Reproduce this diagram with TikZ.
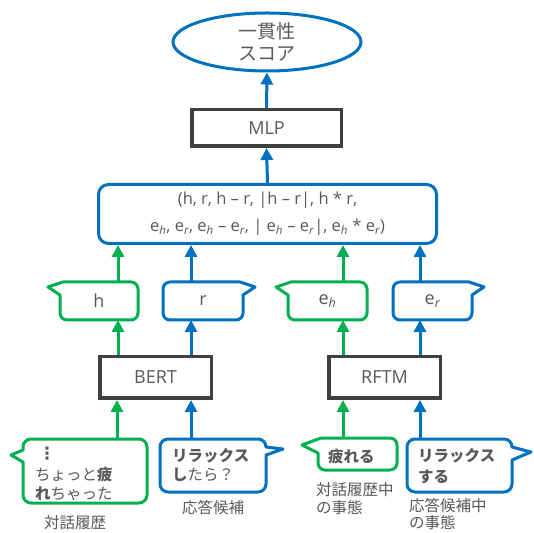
\documentclass[tikz,border=0pt]{standalone}
\usepackage{fontspec}
\setmainfont{Noto Sans CJK JP}
\newfontfamily\lat{Open Sans}
\newfontfamily\symf{DejaVu Sans}
\usetikzlibrary{arrows.meta,shapes.geometric}
\definecolor{gr}{HTML}{00B050}
\definecolor{bl}{HTML}{0070C0}
\definecolor{dk}{HTML}{404040}
\definecolor{tx}{HTML}{595959}
\newcommand\myeh{e\textsubscript{\itshape h}}
\newcommand\myer{e\textsubscript{\itshape r}}
\begin{document}
\begin{tikzpicture}[x=1pt,y=1pt,
  gline/.style={draw=gr, line width=3pt, line join=round, fill=white},
  bline/.style={draw=bl, line width=3pt, line join=round, fill=white},
  proc/.style={draw=dk, line width=3.5pt, fill=white, text=tx, inner sep=0pt,
    font=\lat\fontsize{18}{21}\selectfont},
  garr/.style={draw=gr, line width=3pt, -{Triangle[length=12pt,width=12pt]}},
  barr/.style={draw=bl, line width=3pt, -{Triangle[length=12pt,width=12pt]}},
  txt/.style={text=tx, inner sep=0pt},
  jp/.style={font=\fontsize{15.5}{19}\selectfont},
]
\fill[white] (0,0) rectangle (534,532);
\useasboundingbox (0,0) rectangle (534,532);

% top
\node[ellipse, draw=bl, line width=3pt, minimum width=188, minimum height=58,
  inner sep=0pt, align=center, text=tx, font=\fontsize{19}{22}\selectfont] (score) at (267,490) {一貫性\\スコア};
\node[proc, minimum width=149.5, minimum height=36.5] (mlp) at (266.5,404) {MLP};
\node[draw=bl, line width=3pt, rounded corners=10pt, minimum width=338, minimum height=59,
  inner sep=0pt, align=center, text=tx, font=\lat\fontsize{16.5}{27}\selectfont] (cat) at (267.5,318)
  {(h, r, h – r, |h – r|, h * r,\\ \myeh, \myer, \myeh{} – \myer, | \myeh{} – \myer|, \myeh{} * \myer)};

% representation bubbles
\draw[gline] (63,250) -- (48,245) -- (60,237) -- (60,219) arc[start angle=180,end angle=270,radius=7]
  -- (131,212) arc[start angle=270,end angle=360,radius=7] -- (138,243) arc[start angle=0,end angle=90,radius=7] -- cycle;
\draw[bline] (240,250) -- (255,245) -- (243,237) -- (243,219) arc[start angle=0,end angle=-90,radius=7]
  -- (170,212) arc[start angle=270,end angle=180,radius=7] -- (163,243) arc[start angle=180,end angle=90,radius=7] -- cycle;
\draw[gline] (291,250) -- (276,245) -- (288,237) -- (288,219) arc[start angle=180,end angle=270,radius=7]
  -- (360,212) arc[start angle=270,end angle=360,radius=7] -- (367,243) arc[start angle=0,end angle=90,radius=7] -- cycle;
\draw[bline] (469,250) -- (484,245) -- (472,237) -- (472,219) arc[start angle=0,end angle=-90,radius=7]
  -- (400,212) arc[start angle=270,end angle=180,radius=7] -- (393,243) arc[start angle=180,end angle=90,radius=7] -- cycle;
\node[txt, font=\lat\fontsize{18}{21}\selectfont] (h) at (99,231) {h};
\node[txt, font=\lat\fontsize{18}{21}\selectfont] (r) at (203,231) {r};
\node[txt, font=\lat\fontsize{18}{21}\selectfont] (eh) at (327.5,231) {\myeh};
\node[txt, font=\lat\fontsize{18}{21}\selectfont] (er) at (432.5,231) {\myer};
\coordinate (hT) at (118,250); \coordinate (hB) at (118,212);
\coordinate (rT) at (191,250); \coordinate (rB) at (191,212);
\coordinate (ehT) at (343,250); \coordinate (ehB) at (343,212);
\coordinate (erT) at (420,250); \coordinate (erB) at (420,212);

% encoders
\node[proc, minimum width=111.5, minimum height=41.5] (bert) at (155.5,154.5) {BERT};
\node[proc, minimum width=111.5, minimum height=41.5] (rftm) at (384.5,154.5) {RFTM};

% input bubbles
\draw[gline] (23,82) -- (11,77) -- (23,70) -- (23,37) arc[start angle=180,end angle=270,radius=8]
  -- (139,29) arc[start angle=270,end angle=360,radius=8] -- (147,85) arc[start angle=0,end angle=90,radius=8]
  -- (31,93) arc[start angle=90,end angle=180,radius=8] -- cycle;
\draw[bline] (168,93) -- (258,93) arc[start angle=90,end angle=0,radius=8] -- (283,83) -- (266,77)
  -- (266,48) arc[start angle=0,end angle=-90,radius=8] -- (168,40) arc[start angle=270,end angle=180,radius=8]
  -- (160,85) arc[start angle=180,end angle=90,radius=8] -- cycle;
\draw[gline] (321,94) -- (302,87) -- (318,79) -- (318,69) arc[start angle=180,end angle=270,radius=7]
  -- (390,62) arc[start angle=270,end angle=360,radius=7] -- (397,87) arc[start angle=0,end angle=90,radius=7] -- cycle;
\draw[bline] (415,93) -- (504,93) arc[start angle=90,end angle=0,radius=8] -- (531,80) -- (512,72)
  -- (512,48) arc[start angle=0,end angle=-90,radius=8] -- (415,40) arc[start angle=270,end angle=180,radius=8]
  -- (407,85) arc[start angle=180,end angle=90,radius=8] -- cycle;
\coordinate (dT) at (117,93); \coordinate (cT) at (191,93);
\coordinate (fT) at (343,94); \coordinate (sT) at (420,93);

\node[txt, font=\symf\bfseries\fontsize{17}{19}\selectfont] (dots) at (47,78) {⋮};
\node[txt, jp, align=left, anchor=west] (dlg) at (35,48) {ちょっと{\bfseries 疲}\\{\bfseries れ}ちゃった};
\node[txt, jp, align=left, anchor=west] (cand) at (172,67) {{\bfseries リラックス}\\{\bfseries し}たら？};
\node[txt, jp, anchor=west] (ev1) at (328,75) {\bfseries 疲れる};
\node[txt, jp, align=left, anchor=west, font=\fontsize{15.5}{21}\selectfont] (ev2) at (418,66) {\bfseries リラックス\\\bfseries する};

% labels
\node[txt, jp] (l1) at (75,9) {対話履歴};
\node[txt, jp] (l2) at (213,24) {応答候補};
\node[txt, jp, align=left, anchor=west, font=\fontsize{15.5}{18}\selectfont] (l3) at (316,33) {対話履歴中\\の事態};
\node[txt, jp, align=left, anchor=west, font=\fontsize{15.5}{17}\selectfont] (l4) at (409,17.5) {応答候補中\\の事態};

% arrows
\draw[barr] (mlp.north) -- (score.south);
\draw[barr] (cat.north) -- (mlp.south);
\draw[garr] (hT) -- (hT |- cat.south);
\draw[barr] (rT) -- (rT |- cat.south);
\draw[garr] (ehT) -- (ehT |- cat.south);
\draw[barr] (erT) -- (erT |- cat.south);
\draw[garr] (hB |- bert.north) -- (hB);
\draw[barr] (rB |- bert.north) -- (rB);
\draw[garr] (ehB |- rftm.north) -- (ehB);
\draw[barr] (erB |- rftm.north) -- (erB);
\draw[garr] (dT) -- (dT |- bert.south);
\draw[barr] (cT) -- (cT |- bert.south);
\draw[garr] (fT) -- (fT |- rftm.south);
\draw[barr] (sT) -- (sT |- rftm.south);
\end{tikzpicture}
\end{document}
